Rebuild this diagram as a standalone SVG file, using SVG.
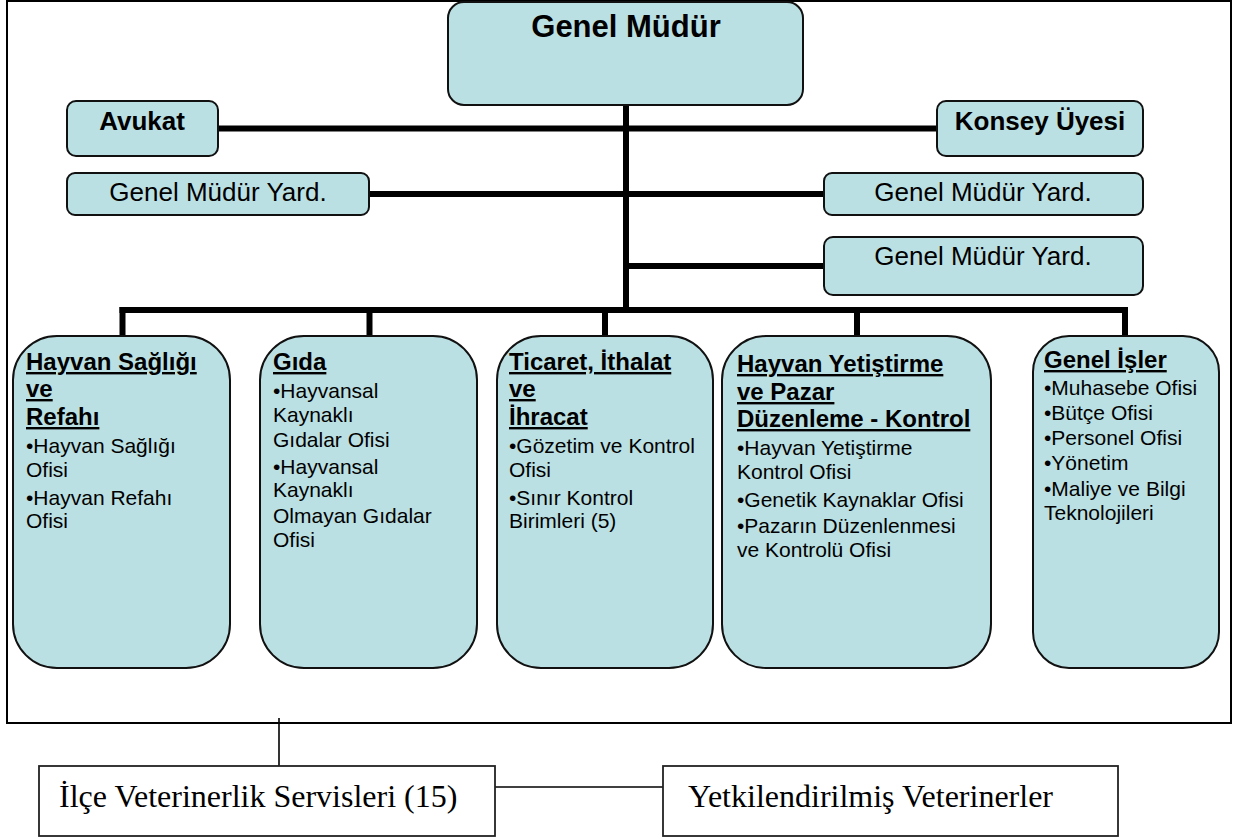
<svg xmlns="http://www.w3.org/2000/svg" width="1240" height="838" viewBox="0 0 1240 838">
<style>
.box{fill:#BBE0E3;stroke:#111;stroke-width:2}
.thick{stroke:#000;stroke-width:6;fill:none}
.thin{stroke:#000;stroke-width:1.6;fill:none}
.sans{font-family:"Liberation Sans",Arial,sans-serif;fill:#000}
.top{font-size:26px;font-weight:bold}
.gmy{font-size:26px}
.title{font-size:24px;font-weight:bold;text-decoration:underline}
.item{font-size:21px}
.serif{font-family:"Liberation Serif","Times New Roman",serif;font-size:32px;fill:#000}
.wbox{fill:#fff;stroke:#222;stroke-width:1.8}
</style>
<rect x="0" y="0" width="1240" height="838" fill="#fff"/>
<rect id="frame" x="7" y="1" width="1224" height="722" fill="none" stroke="#000" stroke-width="2"/>

<g id="connectors">
<line class="thick" x1="626" y1="105" x2="626" y2="313"/>
<line class="thick" x1="218" y1="128.5" x2="937" y2="128.5"/>
<line class="thick" x1="369" y1="194" x2="824" y2="194"/>
<line class="thick" x1="626" y1="266" x2="824" y2="266"/>
<line class="thick" x1="119.5" y1="310" x2="1128" y2="310"/>
<line class="thick" x1="122.5" y1="307" x2="122.5" y2="336"/>
<line class="thick" x1="369.5" y1="307" x2="369.5" y2="336"/>
<line class="thick" x1="605" y1="307" x2="605" y2="336"/>
<line class="thick" x1="857" y1="307" x2="857" y2="336"/>
<line class="thick" x1="1125" y1="307" x2="1125" y2="336"/>
<line class="thin" x1="279" y1="718" x2="279" y2="766"/>
<line class="thin" x1="495" y1="787" x2="663" y2="787"/>
</g>

<g id="genel-mudur">
<rect class="box" x="448" y="2" width="355" height="103" rx="16"/>
<text class="sans" x="626" y="37" font-size="31" font-weight="bold" text-anchor="middle">Genel Müdür</text>
</g>

<g id="avukat">
<rect class="box" x="67" y="101" width="151" height="55" rx="9"/>
<text class="sans top" x="142" y="130" text-anchor="middle">Avukat</text>
</g>

<g id="konsey">
<rect class="box" x="937" y="101" width="206" height="55" rx="9"/>
<text class="sans top" x="1040" y="130" text-anchor="middle">Konsey Üyesi</text>
</g>

<g id="gmy-left">
<rect class="box" x="67" y="173" width="302" height="42" rx="8"/>
<text class="sans gmy" x="218" y="201" text-anchor="middle">Genel Müdür Yard.</text>
</g>

<g id="gmy-right1">
<rect class="box" x="824" y="173" width="319" height="42" rx="8"/>
<text class="sans gmy" x="983" y="201" text-anchor="middle">Genel Müdür Yard.</text>
</g>

<g id="gmy-right2">
<rect class="box" x="824" y="237" width="319" height="58" rx="9"/>
<text class="sans gmy" x="983" y="265" text-anchor="middle">Genel Müdür Yard.</text>
</g>

<g id="hayvan-sagligi">
<rect class="box" x="13" y="336" width="217" height="332" rx="44"/>
<text class="sans title" x="26" y="370">Hayvan Sağlığı</text>
<text class="sans title" x="26" y="397">ve</text>
<text class="sans title" x="26" y="425">Refahı</text>
<text class="sans item" x="26" y="453">•Hayvan Sağlığı</text>
<text class="sans item" x="26" y="477">Ofisi</text>
<text class="sans item" x="26" y="505">•Hayvan Refahı</text>
<text class="sans item" x="26" y="528">Ofisi</text>
</g>

<g id="gida">
<rect class="box" x="260" y="336" width="217" height="332" rx="44"/>
<text class="sans title" x="273" y="370">Gıda</text>
<text class="sans item" x="273" y="398">•Hayvansal</text>
<text class="sans item" x="273" y="422">Kaynaklı</text>
<text class="sans item" x="273" y="447">Gıdalar Ofisi</text>
<text class="sans item" x="273" y="474">•Hayvansal</text>
<text class="sans item" x="273" y="497">Kaynaklı</text>
<text class="sans item" x="273" y="523">Olmayan Gıdalar</text>
<text class="sans item" x="273" y="547">Ofisi</text>
</g>

<g id="ticaret">
<rect class="box" x="497" y="336" width="216" height="332" rx="44"/>
<text class="sans title" x="509" y="370">Ticaret, İthalat</text>
<text class="sans title" x="509" y="397">ve</text>
<text class="sans title" x="509" y="425">İhracat</text>
<text class="sans item" x="509" y="453">•Gözetim ve Kontrol</text>
<text class="sans item" x="509" y="477">Ofisi</text>
<text class="sans item" x="509" y="505">•Sınır Kontrol</text>
<text class="sans item" x="509" y="528">Birimleri (5)</text>
</g>

<g id="hayvan-yetistirme">
<rect class="box" x="722" y="336" width="269" height="332" rx="44"/>
<text class="sans title" x="737" y="372">Hayvan Yetiştirme</text>
<text class="sans title" x="737" y="400">ve Pazar</text>
<text class="sans title" x="737" y="427">Düzenleme - Kontrol</text>
<text class="sans item" x="737" y="455">•Hayvan Yetiştirme</text>
<text class="sans item" x="737" y="479">Kontrol Ofisi</text>
<text class="sans item" x="737" y="507">•Genetik Kaynaklar Ofisi</text>
<text class="sans item" x="737" y="533">•Pazarın Düzenlenmesi</text>
<text class="sans item" x="737" y="557">ve Kontrolü Ofisi</text>
</g>

<g id="genel-isler">
<rect class="box" x="1033" y="336" width="186" height="332" rx="36"/>
<text class="sans title" x="1044" y="368">Genel İşler</text>
<text class="sans item" x="1044" y="395">•Muhasebe Ofisi</text>
<text class="sans item" x="1044" y="420">•Bütçe Ofisi</text>
<text class="sans item" x="1044" y="445">•Personel Ofisi</text>
<text class="sans item" x="1044" y="470">•Yönetim</text>
<text class="sans item" x="1044" y="496">•Maliye ve Bilgi</text>
<text class="sans item" x="1044" y="520">Teknolojileri</text>
</g>

<g id="ilce">
<rect class="wbox" x="39" y="766" width="456" height="70"/>
<text class="serif" x="59" y="807">İlçe Veterinerlik Servisleri (15)</text>
</g>

<g id="yetkili">
<rect class="wbox" x="663" y="766" width="455" height="70"/>
<text class="serif" x="688" y="807">Yetkilendirilmiş Veterinerler</text>
</g>
</svg>
